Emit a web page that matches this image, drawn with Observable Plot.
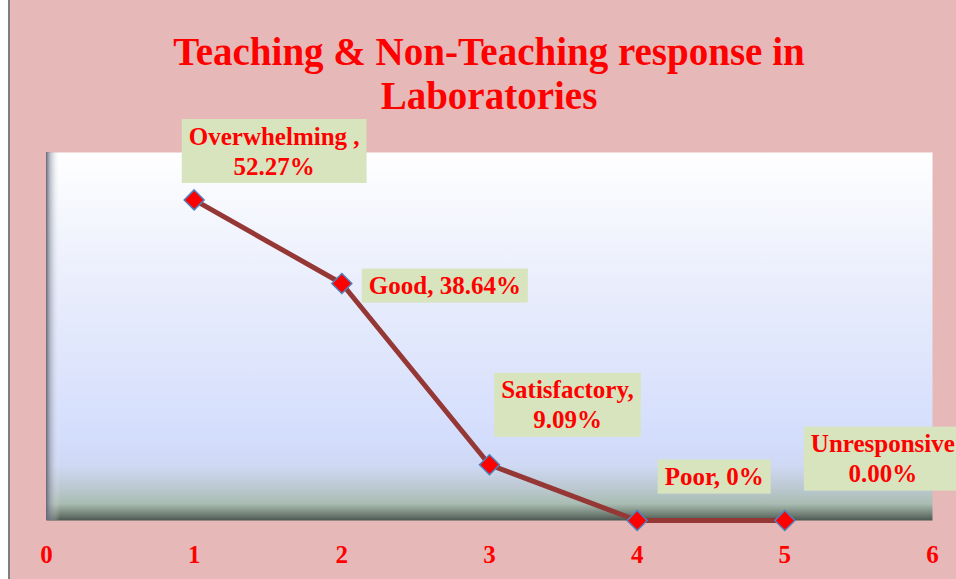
<!DOCTYPE html>
<html>
<head>
<meta charset="utf-8">
<script src="https://cdn.jsdelivr.net/npm/d3@7"></script>
<script src="https://cdn.jsdelivr.net/npm/@observablehq/plot@0.6"></script>
<style>
  html, body { margin: 0; padding: 0; background: #ffffff; }
  #wrap {
    margin-left: 8px;
    border-left: 2px solid #7f7f7f;
    width: 946px;
    height: 579px;
    background: #E6B8B7;
    overflow: hidden;
    font-family: "Liberation Serif", "Times New Roman", serif;
  }
  #title {
    box-sizing: border-box;
    height: 112px;
    padding-top: 30px;
    padding-left: 12px;
    text-align: center;
    color: #FF0000;
    font-weight: bold;
    font-size: 39px;
    line-height: 44px;
    white-space: nowrap;
  }
  #chart svg { display: block; overflow: hidden; }
</style>
</head>
<body>
<div id="wrap">
  <div id="title">Teaching &amp; Non-Teaching response in<br>Laboratories</div>
  <div id="chart"></div>
</div>
<script>
// ---- data ----
const categories = ["Overwhelming", "Good", "Satisfactory", "Poor", "Unresponsive"];
const xPositions = [1, 2, 3, 4, 5];
const percentages = [52.27, 38.64, 9.09, 0, 0];
const labelTexts = ["Overwhelming ,\n52.27%", "Good, 38.64%", "Satisfactory,\n9.09%", "Poor, 0%", "Unresponsive\n0.00%"];
const xTicks = [0, 1, 2, 3, 4, 5, 6];

// ---- label layout (pixel offsets of each data label from its point) ----
const labelOffsets = [[80, -50], [103, 1], [78, -61], [77, -45], [98, -63]];

const data = categories.map((c, i) => ({category: c, x: xPositions[i], value: percentages[i], label: labelTexts[i]}));

const labelMarks = data.map((d, i) => Plot.text([d], {
  x: "x", y: "value", text: "label",
  dx: labelOffsets[i][0], dy: labelOffsets[i][1],
  fill: "#FF0000", fontSize: 25, fontWeight: "bold", lineHeight: 1.2,
  className: "lbl"
}));

const chart = Plot.plot({
  width: 946,
  height: 467,
  marginLeft: 36,
  marginRight: 24,
  marginTop: 40,
  marginBottom: 59,
  style: {
    background: "transparent",
    color: "#FF0000",
    fontFamily: "'Liberation Serif', 'Times New Roman', serif",
    fontSize: "25px",
    fontWeight: "bold",
    overflow: "hidden"
  },
  x: {domain: [0, 6], ticks: xTicks, tickSize: 0, tickPadding: 25, tickFormat: d => String(d), label: null},
  y: {domain: [0, 60], axis: null},
  marks: [
    Plot.frame({fill: "url(#bgGrad)", stroke: "none"}),
    Plot.line(data, {x: "x", y: "value", stroke: "#953735", strokeWidth: 5}),
    Plot.dot(data, {x: "x", y: "value", symbol: "diamond2", r: 9, fill: "#FF0000", stroke: "#4F81BD", strokeWidth: 1.5}),
    ...labelMarks
  ]
});

document.getElementById("chart").appendChild(chart);

const svg = d3.select(chart);
svg.insert("defs", ":first-child").html(`
  <linearGradient id="bgGrad" x1="0" y1="0" x2="0" y2="1">
    <stop offset="0" stop-color="#FFFFFF"/>
    <stop offset="0.35" stop-color="#EAEEFC"/>
    <stop offset="0.78" stop-color="#D3DDFC"/>
    <stop offset="0.85" stop-color="#CFD9F4"/>
    <stop offset="0.91" stop-color="#BCC9D2"/>
    <stop offset="0.955" stop-color="#A9BCB1"/>
    <stop offset="0.985" stop-color="#6E7C72"/>
    <stop offset="1" stop-color="#4A5650"/>
  </linearGradient>
  <linearGradient id="wallGrad" x1="0" y1="0" x2="1" y2="0">
    <stop offset="0" stop-color="#5E636C" stop-opacity="0.95"/>
    <stop offset="0.3" stop-color="#8A90A0" stop-opacity="0.55"/>
    <stop offset="1" stop-color="#FFFFFF" stop-opacity="0"/>
  </linearGradient>
`);

// left wall shading along the plot frame
const frameRect = chart.querySelector('g[aria-label="frame"] rect') || chart.querySelector('rect');
if (frameRect) {
  const fx = +frameRect.getAttribute("x"), fy = +frameRect.getAttribute("y");
  const fh = +frameRect.getAttribute("height");
  d3.select(frameRect.parentNode).append("rect")
    .attr("x", fx).attr("y", fy).attr("width", 14).attr("height", fh)
    .attr("fill", "url(#wallGrad)");
}

// light green boxes behind data labels
svg.selectAll("g.lbl text").each(function () {
  const b = this.getBBox();
  const node = this;
  d3.select(this.parentNode).insert("rect", () => node)
    .attr("x", b.x - 7).attr("y", b.y - 3.5)
    .attr("width", b.width + 14).attr("height", b.height + 7)
    .attr("fill", "#D7E4BD")
    .attr("transform", node.getAttribute("transform"));
});
</script>
</body>
</html>
